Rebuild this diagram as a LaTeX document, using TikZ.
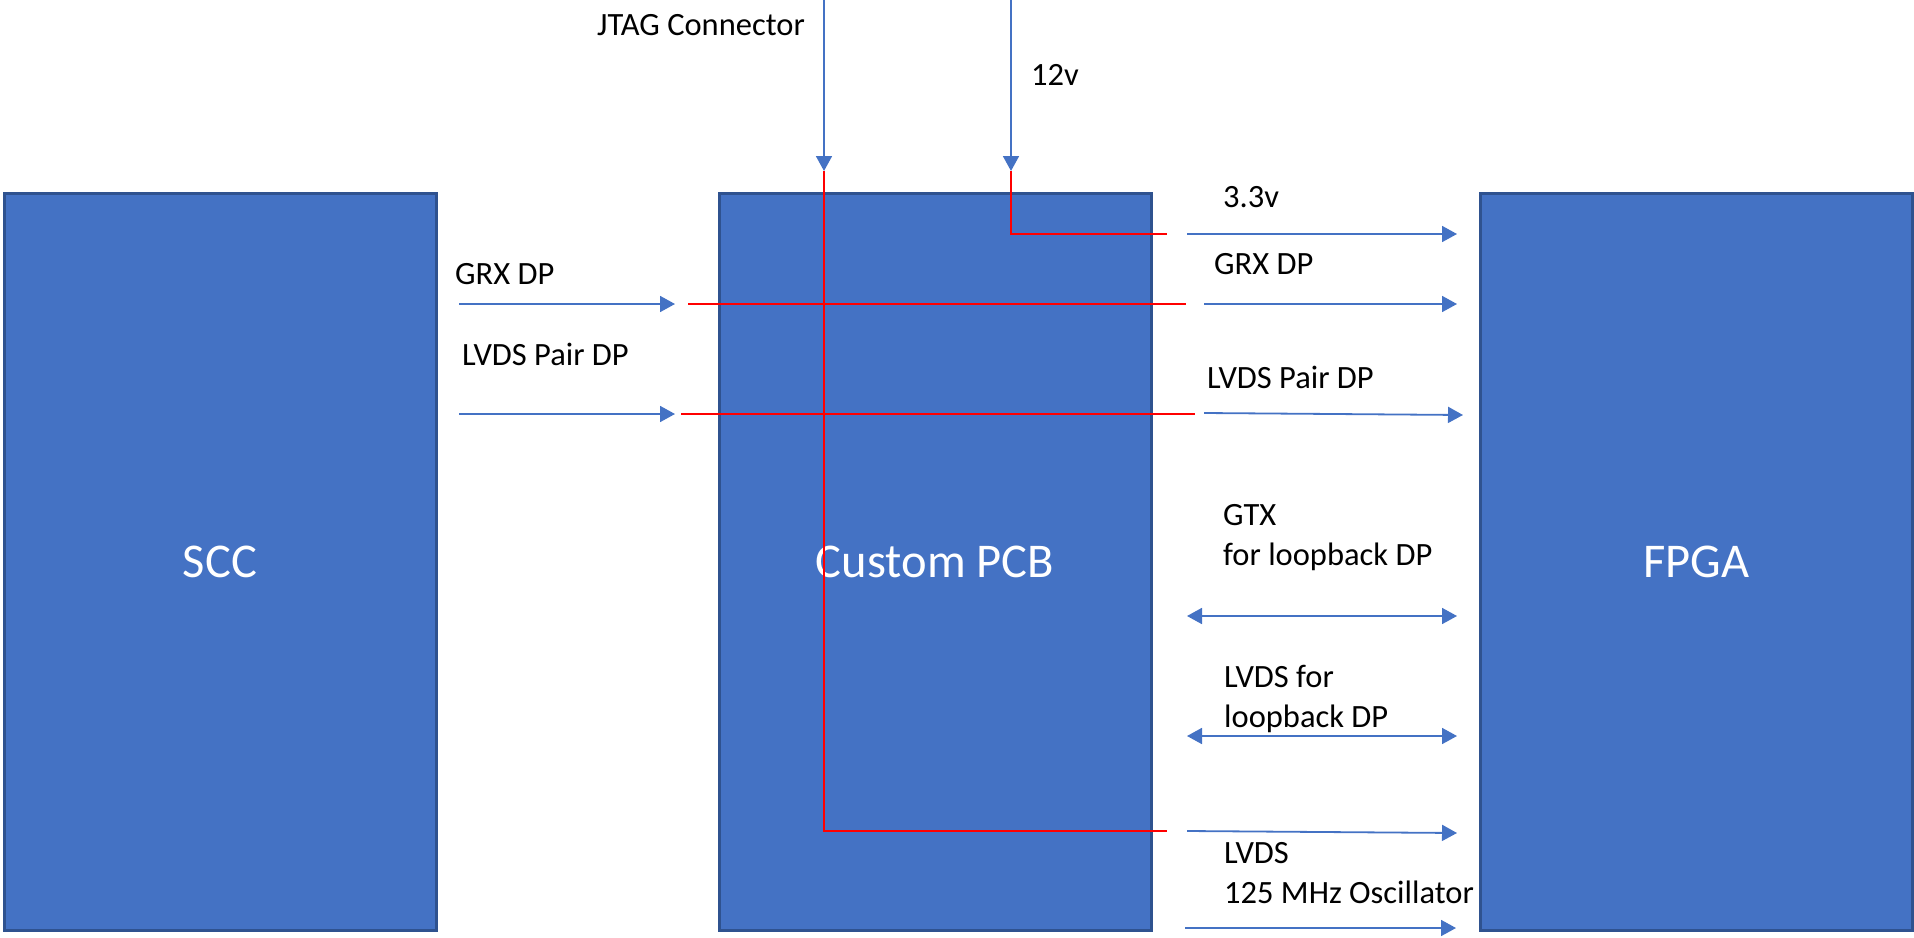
\documentclass[tikz,border=0pt]{standalone}
\usepackage{fontspec}
\setmainfont{Carlito}
\usetikzlibrary{arrows.meta}
\definecolor{blkfill}{HTML}{4472C4}
\definecolor{blkline}{HTML}{2F528F}
\definecolor{sigblue}{HTML}{4472C4}
\definecolor{wirered}{HTML}{FF0000}
\begin{document}
\begin{tikzpicture}[x=1pt,y=-1pt,
  blk/.style={draw=blkline,line width=3pt,fill=blkfill,text=white,
    font=\fontsize{48.5}{58}\selectfont,minimum width=432pt,minimum height=737pt,inner sep=0pt},
  sig/.style={draw=sigblue,line width=1.8pt,-{Triangle[length=15pt,width=16pt]}},
  bisig/.style={draw=sigblue,line width=1.8pt,{Triangle[length=15pt,width=16pt]}-{Triangle[length=15pt,width=16pt]}},
  wire/.style={draw=wirered,line width=2pt},
  lbl/.style={anchor=base west,font=\fontsize{32.5}{40}\selectfont,inner sep=0pt,align=left}]
\useasboundingbox (0,0) rectangle (1914,937);

% Blocks
\node[blk] (scc)  at (220,561.5)  {SCC};
\node[blk] (pcb)  at (935,561.5)  {Custom PCB};
\node[blk] (fpga) at (1696.5,561.5) {FPGA};

% Inputs from the top
\coordinate (jtagin) at (824,0);
\coordinate (jtag)   at (824,171);
\coordinate (pwrin)  at (1011,0);
\coordinate (pwr)    at (1011,171);
\draw[sig] (jtagin) -- (jtag);
\draw[sig] (pwrin) -- (pwr);
\node[lbl] (jtaglbl) at (597,35) {JTAG Connector};
\node[lbl] (pwrlbl)  at (1031,85) {12v};

% SCC -> Custom PCB
\coordinate (grxa) at (459,304);  \coordinate (grxb) at (675,304);
\coordinate (lvda) at (459,414);  \coordinate (lvdb) at (675,414);
\draw[sig] (grxa) -- (grxb);
\draw[sig] (lvda) -- (lvdb);
\node[lbl] (grxlbl) at (455,284) {GRX DP};
\node[lbl] (lvdlbl) at (462,365) {LVDS Pair DP};

% Routing inside the board
\coordinate (pwrout)  at (1167,234);
\coordinate (grxout)  at (1186,304);
\coordinate (lvdout)  at (1195,414);
\coordinate (jtagout) at (1167,831);
\draw[wire] (pwr) |- (pwrout);
\draw[wire] (jtag) |- (jtagout);
\draw[wire] (688,304) -- (grxout);
\draw[wire] (681,414) -- (lvdout);

% Custom PCB -> FPGA
\coordinate (p33a) at (1187,234);  \coordinate (p33b) at (1457,234);
\coordinate (grxc) at (1204,304);  \coordinate (grxd) at (1457,304);
\coordinate (lvdc) at (1204,413);  \coordinate (lvdd) at (1463,415);
\coordinate (gtxa) at (1187,616);  \coordinate (gtxb) at (1457,616);
\coordinate (lpba) at (1187,736);  \coordinate (lpbb) at (1457,736);
\coordinate (osca) at (1187,831);  \coordinate (oscb) at (1457,833);
\coordinate (clka) at (1185,928);  \coordinate (clkb) at (1456,928);
\draw[sig] (p33a) -- (p33b);
\draw[sig] (grxc) -- (grxd);
\draw[sig] (lvdc) -- (lvdd);
\draw[bisig] (gtxa) -- (gtxb);
\draw[bisig] (lpba) -- (lpbb);
\draw[sig] (osca) -- (oscb);
\draw[sig] (clka) -- (clkb);

% Labels right side (base = last line)
\node[lbl] (p33lbl)  at (1223,207) {3.3v};
\node[lbl] (grxrlbl) at (1214,274) {GRX DP};
\node[lbl] (lvdrlbl) at (1207,388) {LVDS Pair DP};
\node[lbl] (gtxlbl)  at (1223,565) {GTX\\for loopback DP};
\node[lbl] (lpblbl)  at (1224,727) {LVDS for\\loopback DP};
\node[lbl] (osclbl)  at (1224,903) {LVDS\\125 MHz Oscillator};
\end{tikzpicture}
\end{document}
